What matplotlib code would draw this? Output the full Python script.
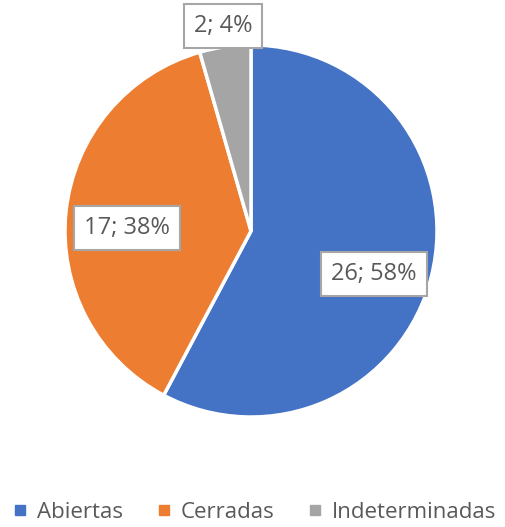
import matplotlib
matplotlib.use("Agg")
import matplotlib.pyplot as plt
from matplotlib.lines import Line2D

categories = ["Abiertas", "Cerradas", "Indeterminadas"]
counts = [26, 17, 2]
percents = [58, 38, 4]
colors = ["#4472C4", "#ED7D31", "#A5A5A5"]
# label anchor positions (in units of the pie radius)
label_pos = [(0.661, -0.231), (-0.667, 0.016), (-0.15, 1.10)]

W, H = 505, 527
fig = plt.figure(figsize=(W / 100, H / 100), dpi=100)
fig.patch.set_facecolor("white")

cx, cy, r = 251, 231, 186
ax = fig.add_axes([(cx - r) / W, (H - cy - r) / H, 2 * r / W, 2 * r / H])
ax.pie(counts, colors=colors, startangle=90, counterclock=False, radius=1,
       wedgeprops=dict(edgecolor="white", linewidth=2.5))
ax.set_xlim(-1, 1)
ax.set_ylim(-1, 1)
ax.set_aspect("equal")
ax.axis("off")

font = ["Open Sans", "DejaVu Sans"]
for n, p, (x, y) in zip(counts, percents, label_pos):
    ax.text(x, y, f"{n}; {p}%", ha="center", va="center", fontsize=17,
            color="#595959", family=font, clip_on=False,
            bbox=dict(boxstyle="square,pad=0.42", facecolor="white",
                      edgecolor="#A6A6A6", linewidth=1.5))

handles = [Line2D([], [], marker="s", linestyle="none", markersize=7.5,
                  markerfacecolor=c, markeredgecolor=c) for c in colors]
fig.legend(handles, categories, loc="center", bbox_to_anchor=(0.505, (H - 512) / H),
           ncol=3, frameon=False, handlelength=0.6, handletextpad=0.45,
           columnspacing=1.55, borderpad=0, borderaxespad=0,
           prop=dict(family=font, size=16), labelcolor="#595959")

fig.savefig("out.png", dpi=100)
